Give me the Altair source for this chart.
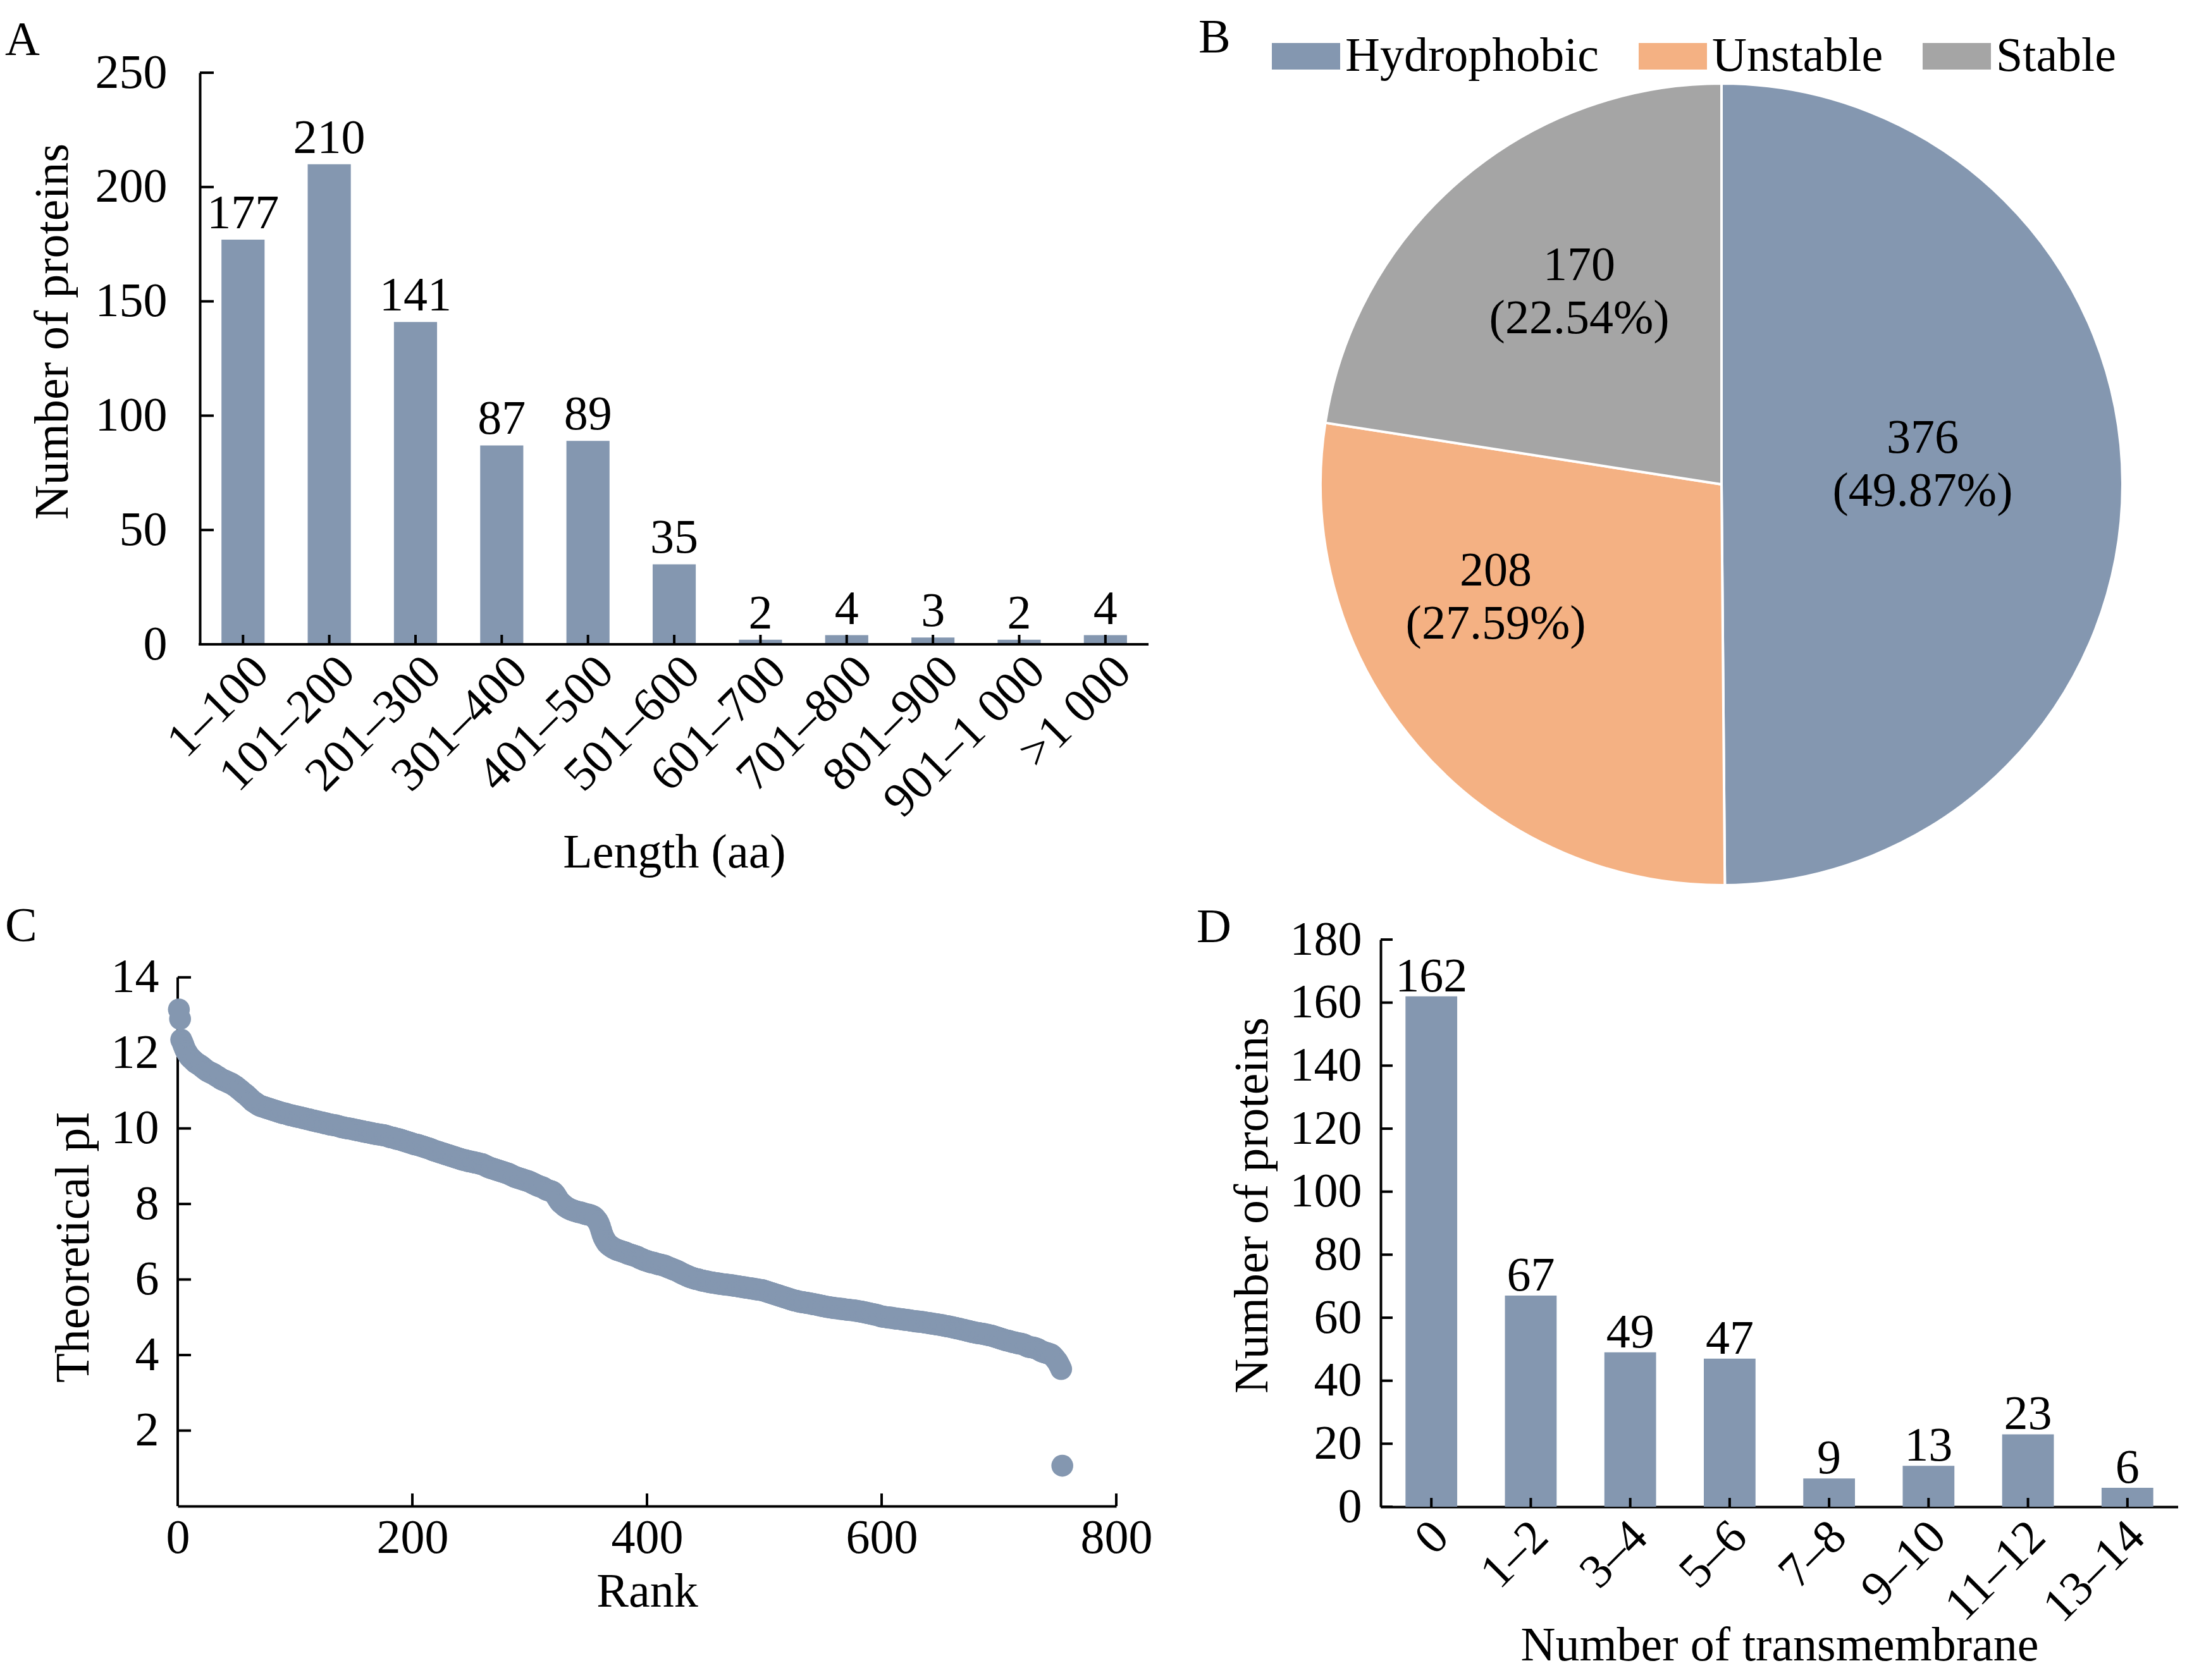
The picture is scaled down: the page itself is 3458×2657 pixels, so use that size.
import altair as alt
import pandas as pd

FONT = "Liberation Serif"
FS = 76
BLUE = "#8497B0"
ORANGE = "#F4B183"
GRAY = "#A5A5A5"
AXW = 4

# ---------------- Panel A data ----------------
length_bins = ["1–100", "101–200", "201–300", "301–400", "401–500", "501–600",
               "601–700", "701–800", "801–900", "901–1 000", ">1 000"]
length_counts = [177, 210, 141, 87, 89, 35, 2, 4, 3, 2, 4]
a_yticks = [0, 50, 100, 150, 200, 250]

# ---------------- Panel B data ----------------
stab_cats = ["Hydrophobic", "Unstable", "Stable"]
stab_counts = [376, 208, 170]
stab_pct = ["49.87%", "27.59%", "22.54%"]

# ---------------- Panel C data (theoretical pI, sorted by rank) ----------------
pi_values = [
    13.15, 12.90, 12.35, 12.28, 12.20, 12.12, 12.05, 12.00, 11.95, 11.90,
    11.87, 11.84, 11.81, 11.78, 11.75, 11.73, 11.71, 11.69, 11.67, 11.65,
    11.62, 11.60, 11.57, 11.55, 11.52, 11.51, 11.49, 11.48, 11.46, 11.45,
    11.43, 11.41, 11.39, 11.37, 11.35, 11.33, 11.31, 11.29, 11.28, 11.27,
    11.25, 11.24, 11.22, 11.21, 11.20, 11.18, 11.16, 11.14, 11.12, 11.10,
    11.07, 11.05, 11.02, 11.00, 10.97, 10.94, 10.92, 10.90, 10.87, 10.84,
    10.81, 10.78, 10.75, 10.72, 10.70, 10.68, 10.66, 10.64, 10.62, 10.60,
    10.59, 10.58, 10.57, 10.56, 10.55, 10.54, 10.53, 10.52, 10.51, 10.50,
    10.49, 10.48, 10.47, 10.46, 10.45, 10.44, 10.43, 10.42, 10.41, 10.40,
    10.40, 10.39, 10.38, 10.37, 10.36, 10.35, 10.35, 10.34, 10.33, 10.32,
    10.32, 10.31, 10.30, 10.30, 10.29, 10.28, 10.27, 10.27, 10.26, 10.25,
    10.24, 10.24, 10.23, 10.22, 10.21, 10.21, 10.20, 10.19, 10.18, 10.18,
    10.17, 10.16, 10.16, 10.15, 10.14, 10.13, 10.13, 10.12, 10.11, 10.10,
    10.10, 10.09, 10.09, 10.08, 10.08, 10.07, 10.06, 10.05, 10.04, 10.03,
    10.03, 10.02, 10.01, 10.01, 10.00, 10.00, 9.99, 9.99, 9.98, 9.97,
    9.97, 9.96, 9.95, 9.95, 9.94, 9.93, 9.93, 9.92, 9.91, 9.91,
    9.90, 9.90, 9.89, 9.88, 9.88, 9.87, 9.86, 9.86, 9.85, 9.85,
    9.84, 9.84, 9.83, 9.83, 9.82, 9.82, 9.81, 9.80, 9.79, 9.78,
    9.77, 9.76, 9.76, 9.75, 9.74, 9.73, 9.72, 9.72, 9.71, 9.70,
    9.69, 9.68, 9.67, 9.66, 9.65, 9.64, 9.63, 9.62, 9.61, 9.60,
    9.59, 9.58, 9.57, 9.57, 9.56, 9.55, 9.54, 9.53, 9.52, 9.51,
    9.50, 9.49, 9.48, 9.47, 9.46, 9.45, 9.43, 9.42, 9.41, 9.40,
    9.39, 9.38, 9.37, 9.36, 9.35, 9.34, 9.33, 9.32, 9.31, 9.30,
    9.29, 9.28, 9.27, 9.26, 9.25, 9.24, 9.23, 9.22, 9.21, 9.20,
    9.19, 9.18, 9.17, 9.16, 9.16, 9.15, 9.14, 9.13, 9.13, 9.12,
    9.11, 9.11, 9.10, 9.09, 9.09, 9.08, 9.07, 9.06, 9.06, 9.05,
    9.03, 9.02, 9.00, 8.99, 8.97, 8.96, 8.95, 8.94, 8.93, 8.92,
    8.91, 8.90, 8.89, 8.88, 8.87, 8.86, 8.85, 8.84, 8.83, 8.82,
    8.81, 8.80, 8.78, 8.77, 8.75, 8.74, 8.72, 8.71, 8.70, 8.69,
    8.68, 8.67, 8.66, 8.65, 8.64, 8.63, 8.62, 8.61, 8.60, 8.59,
    8.57, 8.56, 8.54, 8.53, 8.51, 8.50, 8.48, 8.47, 8.46, 8.45,
    8.44, 8.42, 8.40, 8.38, 8.37, 8.36, 8.35, 8.34, 8.33, 8.31,
    8.28, 8.24, 8.19, 8.14, 8.09, 8.05, 8.02, 8.00, 7.97, 7.94,
    7.92, 7.90, 7.88, 7.87, 7.85, 7.84, 7.83, 7.82, 7.81, 7.80,
    7.79, 7.78, 7.78, 7.77, 7.76, 7.75, 7.74, 7.73, 7.72, 7.72,
    7.71, 7.70, 7.69, 7.67, 7.65, 7.62, 7.58, 7.54, 7.48, 7.40,
    7.30, 7.20, 7.12, 7.06, 7.01, 6.96, 6.93, 6.90, 6.88, 6.86,
    6.84, 6.82, 6.81, 6.79, 6.78, 6.77, 6.76, 6.75, 6.74, 6.73,
    6.72, 6.71, 6.69, 6.68, 6.67, 6.66, 6.65, 6.64, 6.63, 6.62,
    6.61, 6.60, 6.58, 6.56, 6.55, 6.54, 6.52, 6.51, 6.50, 6.49,
    6.48, 6.47, 6.46, 6.45, 6.45, 6.44, 6.43, 6.42, 6.41, 6.40,
    6.40, 6.39, 6.38, 6.37, 6.37, 6.35, 6.34, 6.32, 6.31, 6.30,
    6.29, 6.27, 6.26, 6.25, 6.24, 6.22, 6.21, 6.19, 6.17, 6.16,
    6.14, 6.13, 6.11, 6.10, 6.09, 6.07, 6.06, 6.05, 6.04, 6.03,
    6.02, 6.01, 6.01, 6.00, 5.99, 5.98, 5.97, 5.97, 5.96, 5.95,
    5.95, 5.94, 5.93, 5.93, 5.92, 5.92, 5.91, 5.91, 5.90, 5.90,
    5.89, 5.89, 5.88, 5.88, 5.87, 5.87, 5.87, 5.86, 5.86, 5.86,
    5.85, 5.85, 5.84, 5.84, 5.83, 5.83, 5.82, 5.82, 5.81, 5.81,
    5.80, 5.80, 5.79, 5.79, 5.78, 5.78, 5.77, 5.77, 5.76, 5.76,
    5.75, 5.75, 5.74, 5.74, 5.73, 5.73, 5.72, 5.72, 5.71, 5.70,
    5.69, 5.68, 5.67, 5.66, 5.65, 5.64, 5.63, 5.62, 5.61, 5.60,
    5.59, 5.58, 5.57, 5.56, 5.55, 5.54, 5.53, 5.52, 5.51, 5.50,
    5.49, 5.48, 5.47, 5.46, 5.45, 5.44, 5.44, 5.43, 5.42, 5.41,
    5.41, 5.40, 5.40, 5.39, 5.39, 5.38, 5.38, 5.37, 5.37, 5.36,
    5.35, 5.35, 5.34, 5.34, 5.33, 5.32, 5.32, 5.31, 5.30, 5.30,
    5.29, 5.28, 5.28, 5.27, 5.27, 5.26, 5.26, 5.25, 5.25, 5.24,
    5.24, 5.24, 5.23, 5.23, 5.22, 5.22, 5.22, 5.21, 5.21, 5.20,
    5.20, 5.20, 5.19, 5.19, 5.19, 5.18, 5.18, 5.17, 5.17, 5.16,
    5.16, 5.15, 5.15, 5.14, 5.13, 5.13, 5.12, 5.11, 5.11, 5.10,
    5.09, 5.09, 5.08, 5.07, 5.07, 5.06, 5.05, 5.04, 5.03, 5.02,
    5.02, 5.01, 5.01, 5.00, 5.00, 4.99, 4.99, 4.99, 4.98, 4.98,
    4.97, 4.97, 4.96, 4.96, 4.96, 4.95, 4.95, 4.94, 4.94, 4.93,
    4.93, 4.93, 4.92, 4.92, 4.91, 4.91, 4.90, 4.90, 4.89, 4.89,
    4.89, 4.88, 4.88, 4.88, 4.87, 4.87, 4.86, 4.86, 4.85, 4.85,
    4.84, 4.84, 4.83, 4.83, 4.82, 4.82, 4.81, 4.81, 4.80, 4.80,
    4.79, 4.79, 4.78, 4.77, 4.77, 4.76, 4.76, 4.75, 4.74, 4.74,
    4.73, 4.72, 4.72, 4.71, 4.70, 4.70, 4.69, 4.68, 4.67, 4.67,
    4.66, 4.65, 4.64, 4.64, 4.63, 4.62, 4.61, 4.61, 4.60, 4.59,
    4.59, 4.58, 4.58, 4.57, 4.57, 4.56, 4.56, 4.55, 4.54, 4.54,
    4.53, 4.52, 4.52, 4.51, 4.50, 4.49, 4.48, 4.47, 4.46, 4.45,
    4.44, 4.43, 4.42, 4.41, 4.40, 4.39, 4.38, 4.38, 4.37, 4.36,
    4.35, 4.34, 4.34, 4.33, 4.32, 4.31, 4.31, 4.30, 4.30, 4.29,
    4.28, 4.27, 4.25, 4.23, 4.22, 4.21, 4.21, 4.20, 4.20, 4.19,
    4.18, 4.17, 4.16, 4.14, 4.12, 4.10, 4.09, 4.08, 4.07, 4.06,
    4.05, 4.04, 4.03, 4.02, 4.00, 3.97, 3.94, 3.90, 3.86, 3.82,
    3.76, 3.70, 3.63, 1.07,
]
c_xticks = [0, 200, 400, 600, 800]
c_yticks = [2, 4, 6, 8, 10, 12, 14]

# ---------------- Panel D data ----------------
tm_bins = ["0", "1–2", "3–4", "5–6", "7–8", "9–10", "11–12", "13–14"]
tm_counts = [162, 67, 49, 47, 9, 13, 23, 6]
d_yticks = [0, 20, 40, 60, 80, 100, 120, 140, 160, 180]

# ---------------- sizes ----------------
AOFF = 35                      # panel A's y axis sits this far right of the column edge
WA, HA = 1535, 904
WB, HB, RB = 1268, 1302, 634
WC, HC = 1484, 896
WD, HD = 1261, 897


def panel_title(letter, dx, dy):
    return alt.Title(letter, anchor="start", frame="group", dx=dx, dy=dy, offset=0,
                     font=FONT, fontSize=FS, fontWeight="normal", color="black")


def text_style():
    return dict(font=FONT, fontSize=FS, color="black")


# ---------------- Panel A ----------------
dfA = pd.DataFrame({"bin": length_bins, "n": length_counts})
xA_scale = alt.Scale(domain=length_bins, paddingInner=0.5, paddingOuter=0.3785, align=0.67)
yA_scale = alt.Scale(domain=[0, 250], nice=False)
xA_axis = alt.Axis(title="Length (aa)", labelAngle=-45, labelAlign="right", domain=False,
                   labelBaseline="middle", labelPadding=31, labelOffset=28, titlePadding=92,
                   titleX=AOFF + (WA - AOFF) / 2)
yA_axis = alt.Axis(title="Number of proteins", values=a_yticks, offset=-AOFF,
                   labelPadding=52, titlePadding=28, titleY=409)
xA = alt.X("bin:N", scale=xA_scale, axis=xA_axis)
yA = alt.Y("n:Q", scale=yA_scale, axis=yA_axis)
barsA = alt.Chart(dfA).mark_bar(color=BLUE).encode(x=xA, y=yA)
textA = alt.Chart(dfA).mark_text(baseline="alphabetic", dy=-18, **text_style()).encode(
    x=xA, y=yA, text="n:Q")
xtA = alt.Chart(dfA).mark_rule(color="black", strokeWidth=AXW).encode(
    x=xA, y=alt.value(HA), y2=alt.value(HA - 15))
ytA = alt.Chart(pd.DataFrame({"n": a_yticks})).mark_rule(color="black", strokeWidth=AXW).encode(
    y=yA, x=alt.value(AOFF), x2=alt.value(AOFF + 22))
xlineA = alt.Chart(pd.DataFrame({"n": [0]})).mark_rule(color="black", strokeWidth=AXW).encode(
    y=yA, x=alt.value(AOFF - AXW / 2), x2=alt.value(WA))
A = alt.layer(barsA, textA, xtA, ytA, xlineA).properties(
    width=WA, height=HA, title=panel_title("A", -273, 26))

# ---------------- Panel B ----------------
dfB = pd.DataFrame({"cat": stab_cats, "n": stab_counts, "pct": stab_pct})
baseB = alt.Chart(dfB).transform_window(idx="row_number()")
colorB = alt.Color(
    "cat:N",
    scale=alt.Scale(domain=stab_cats, range=[BLUE, ORANGE, GRAY]),
    legend=alt.Legend(title=None, orient="none", legendX=1730, legendY=-80,
                      direction="horizontal", columns=3,
                      symbolType="M-1,-0.39H1V0.39H-1Z", symbolSize=11664,
                      symbolStrokeWidth=0, symbolOpacity=1,
                      labelFont=FONT, labelFontSize=FS, labelColor="black",
                      labelLimit=2000, labelOffset=8, columnPadding=62, padding=0),
)
arcB = baseB.mark_arc(radius=RB, stroke="white", strokeWidth=4).encode(
    theta=alt.Theta("n:Q", stack=True),
    color=colorB,
    order=alt.Order("idx:Q"),
)
labBase = (baseB
           .transform_joinaggregate(total="sum(n)")
           .transform_window(cum="sum(n)", sort=[alt.SortField("idx")], frame=[None, 0])
           .transform_calculate(mid="datum.cum - datum.n / 2",
                                lab="datum.n + '\\n(' + datum.pct + ')'"))
label_layout = [("Hydrophobic", 318, 0, -72), ("Unstable", 399, -55, -124), ("Stable", 378, 21, -59)]
label_layers = []
for cat, r, ddx, ddy in label_layout:
    label_layers.append(
        labBase.transform_filter(alt.datum.cat == cat)
        .mark_text(radius=r, dx=ddx, dy=ddy, align="center", baseline="middle",
                   lineBreak="\n", lineHeight=84, **text_style())
        .encode(theta=alt.Theta("mid:Q", stack=None), text="lab:N")
    )
B = alt.layer(arcB, *label_layers).properties(
    width=WB, height=HB, title=panel_title("B", -193, -16))

# ---------------- Panel C ----------------
dfC = pd.DataFrame({"rank": list(range(1, len(pi_values) + 1)), "pI": pi_values})
xC_scale = alt.Scale(domain=[0, 800], nice=False)
yC_scale = alt.Scale(domain=[0, 15], nice=False)
xC_axis = alt.Axis(title="Rank", values=c_xticks, labelPadding=13, titlePadding=10,
                   labelFlush=False)
yC_axis = alt.Axis(title="Theoretical pI", values=c_yticks, domain=False,
                   labelPadding=30, titlePadding=20, titleY=486)
pointsC = alt.Chart(dfC).mark_circle(size=1200, color=BLUE, opacity=1).encode(
    x=alt.X("rank:Q", scale=xC_scale, axis=xC_axis),
    y=alt.Y("pI:Q", scale=yC_scale, axis=yC_axis),
)
yLineC = alt.Chart(pd.DataFrame({"pI": [0]})).mark_rule(color="black", strokeWidth=AXW).encode(
    x=alt.value(0),
    y=alt.Y(datum=0, scale=yC_scale, axis=yC_axis),
    y2=alt.Y2(datum=max(c_yticks)),
)
xtC = alt.Chart(pd.DataFrame({"rank": c_xticks[1:]})).mark_rule(color="black", strokeWidth=AXW).encode(
    x=alt.X("rank:Q", scale=xC_scale, axis=xC_axis),
    y=alt.value(HC), y2=alt.value(HC - 20),
)
ytC = alt.Chart(pd.DataFrame({"pI": c_yticks})).mark_rule(color="black", strokeWidth=AXW).encode(
    y=alt.Y("pI:Q", scale=yC_scale, axis=yC_axis),
    x=alt.value(0), x2=alt.value(21),
)
C = alt.layer(yLineC, xtC, ytC, pointsC).properties(
    width=WC, height=HC, title=panel_title("C", -273, 18))

# ---------------- Panel D ----------------
dfD = pd.DataFrame({"bin": tm_bins, "n": tm_counts})
xD_scale = alt.Scale(domain=tm_bins, paddingInner=0.48, paddingOuter=0.25)
yD_scale = alt.Scale(domain=[0, 180], nice=False)
xD_axis = alt.Axis(title="Number of transmembrane", labelAngle=-45, labelAlign="right",
                   labelBaseline="middle", labelPadding=35, labelOffset=15,
                   titleY=182, titleBaseline="top")
yD_axis = alt.Axis(title="Number of proteins", values=d_yticks,
                   labelPadding=30, titlePadding=20, titleY=420)
xD = alt.X("bin:N", scale=xD_scale, axis=xD_axis)
yD = alt.Y("n:Q", scale=yD_scale, axis=yD_axis)
barsD = alt.Chart(dfD).mark_bar(color=BLUE).encode(x=xD, y=yD)
textD = alt.Chart(dfD).mark_text(baseline="alphabetic", dy=-8, **text_style()).encode(
    x=xD, y=yD, text="n:Q")
xtD = alt.Chart(dfD).mark_rule(color="black", strokeWidth=AXW).encode(
    x=xD, y=alt.value(HD), y2=alt.value(HD - 14))
ytD = alt.Chart(pd.DataFrame({"n": d_yticks})).mark_rule(color="black", strokeWidth=AXW).encode(
    y=yD, x=alt.value(0), x2=alt.value(19))
D = alt.layer(barsD, textD, xtD, ytD).properties(
    width=WD, height=HD, title=panel_title("D", -291, 58))

# ---------------- assemble ----------------
row1 = alt.hconcat(A, B, spacing=77)
row2 = alt.hconcat(C, D, spacing=70)
chart = (
    alt.vconcat(row1, row2, spacing=10)
    .properties(padding={"top": 14, "left": 0, "right": 0, "bottom": 0}, background="white")
    .configure_view(stroke=None)
    .configure_axis(domainColor="black", domainWidth=AXW, ticks=False, tickSize=0,
                    grid=False, labelFont=FONT, labelFontSize=FS, labelColor="black",
                    labelLimit=2000, titleFont=FONT, titleFontSize=FS,
                    titleFontWeight="normal", titleColor="black")
)

chart.save("out.html", embed_options={"renderer": "svg", "actions": False})
